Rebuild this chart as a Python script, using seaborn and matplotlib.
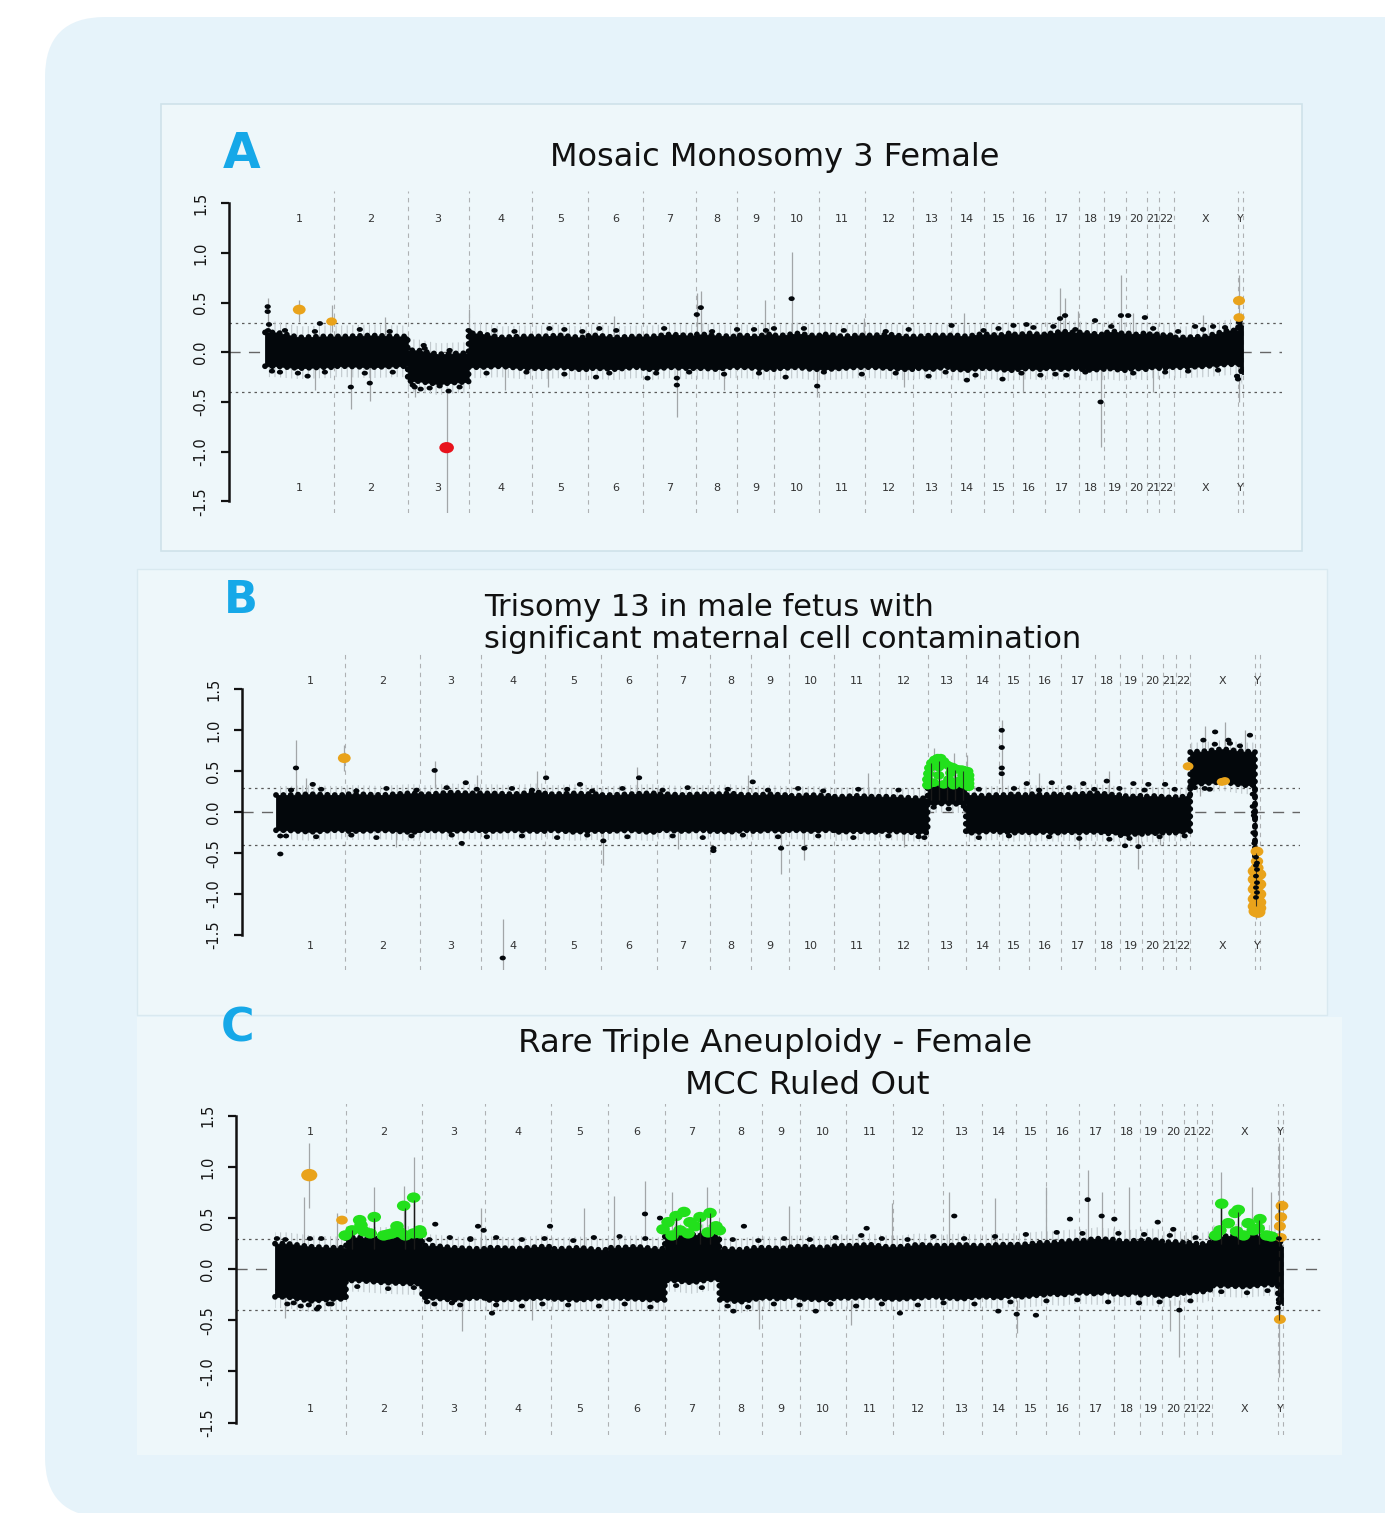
import numpy as np
import pandas as pd
import matplotlib
matplotlib.use("Agg")
import matplotlib.pyplot as plt
import seaborn as sns
from matplotlib.patches import FancyBboxPatch, Rectangle
from matplotlib.path import Path
from matplotlib.transforms import Affine2D, blended_transform_factory

sns.set_theme(style="white")
plt.rcParams["font.family"] = ["DejaVu Sans"]
plt.rcParams["axes.unicode_minus"] = False
plt.rcParams["hatch.linewidth"] = 0.8

# ---------------- data ----------------
chrom_names = [str(i) for i in range(1, 23)] + ["X", "Y"]
chrom_width = [69, 74, 61, 64, 56, 55, 53, 41, 37.5, 45, 45.5, 48, 38, 33.5,
               29.5, 31.5, 34, 25, 22, 21, 12.5, 14.5, 64.5, 5]
y_ticks = [-1.5, -1.0, -0.5, 0.0, 0.5, 1.0, 1.5]
y_tick_labels = ["-1.5", "-1.0", "-0.5", "0.0", "0.5", "1.0", "1.5"]
gain_threshold = 0.3
loss_threshold = -0.4

# dense band envelope per chromosome (3 top values, 3 bottom values)
a_top = [(0.2, 0.15, 0.16), (0.16, 0.17, 0.16), (0.02, -0.02, -0.01), (0.19, 0.15, 0.16),
         (0.16, 0.17, 0.15), (0.17, 0.15, 0.16), (0.16, 0.18, 0.17), (0.18, 0.17, 0.16),
         (0.17, 0.16, 0.18), (0.17, 0.19, 0.17), (0.18, 0.16, 0.17), (0.17, 0.18, 0.16),
         (0.16, 0.17, 0.17), (0.17, 0.16, 0.18), (0.18, 0.17, 0.19), (0.18, 0.19, 0.18),
         (0.19, 0.21, 0.2), (0.2, 0.19, 0.18), (0.2, 0.21, 0.19), (0.19, 0.18, 0.19),
         (0.18, 0.19, 0.18), (0.17, 0.18, 0.17), (0.15, 0.16, 0.22), (0.3, 0.32, 0.27)]
a_bot = [(-0.14, -0.16, -0.15), (-0.14, -0.15, -0.14), (-0.29, -0.32, -0.3), (-0.15, -0.14, -0.16),
         (-0.16, -0.15, -0.17), (-0.16, -0.17, -0.15), (-0.17, -0.15, -0.16), (-0.16, -0.17, -0.15),
         (-0.15, -0.16, -0.17), (-0.16, -0.15, -0.17), (-0.17, -0.16, -0.15), (-0.15, -0.16, -0.17),
         (-0.16, -0.17, -0.15), (-0.17, -0.18, -0.16), (-0.16, -0.17, -0.18), (-0.17, -0.16, -0.17),
         (-0.16, -0.17, -0.16), (-0.17, -0.18, -0.17), (-0.16, -0.17, -0.18), (-0.17, -0.16, -0.17),
         (-0.16, -0.15, -0.16), (-0.15, -0.16, -0.15), (-0.15, -0.14, -0.12), (-0.12, -0.17, -0.22)]

b_top = [(0.21, 0.22, 0.21), (0.22, 0.21, 0.23), (0.22, 0.24, 0.23), (0.23, 0.22, 0.24),
         (0.22, 0.23, 0.22), (0.21, 0.22, 0.23), (0.22, 0.21, 0.22), (0.22, 0.23, 0.21),
         (0.21, 0.22, 0.21), (0.2, 0.21, 0.2), (0.19, 0.2, 0.19), (0.19, 0.18, 0.17),
         (0.33, 0.34, 0.32), (0.21, 0.2, 0.21), (0.21, 0.22, 0.21), (0.22, 0.21, 0.22),
         (0.21, 0.22, 0.23), (0.23, 0.22, 0.21), (0.2, 0.19, 0.2), (0.19, 0.2, 0.19),
         (0.19, 0.18, 0.19), (0.18, 0.19, 0.2), (0.74, 0.77, 0.74), (-0.55, -0.62, -0.68)]
b_bot = [(-0.22, -0.24, -0.22), (-0.23, -0.22, -0.24), (-0.22, -0.23, -0.22), (-0.23, -0.22, -0.23),
         (-0.22, -0.24, -0.23), (-0.23, -0.22, -0.24), (-0.22, -0.23, -0.22), (-0.23, -0.24, -0.22),
         (-0.23, -0.22, -0.23), (-0.22, -0.23, -0.22), (-0.24, -0.23, -0.24), (-0.23, -0.24, -0.25),
         (0.1, 0.11, 0.1), (-0.25, -0.24, -0.23), (-0.24, -0.25, -0.24), (-0.25, -0.24, -0.25),
         (-0.24, -0.25, -0.24), (-0.24, -0.26, -0.25), (-0.28, -0.26, -0.27), (-0.25, -0.26, -0.25),
         (-0.24, -0.25, -0.24), (-0.25, -0.24, -0.23), (0.35, 0.37, 0.33), (-1.0, -1.05, -1.05)]

c_top = [(0.25, 0.22, 0.21), (0.31, 0.3, 0.31), (0.23, 0.21, 0.2), (0.21, 0.2, 0.22),
         (0.2, 0.21, 0.19), (0.21, 0.22, 0.2), (0.33, 0.34, 0.32), (0.2, 0.19, 0.21),
         (0.21, 0.2, 0.22), (0.22, 0.21, 0.23), (0.23, 0.24, 0.22), (0.22, 0.24, 0.23),
         (0.23, 0.24, 0.23), (0.23, 0.24, 0.24), (0.24, 0.25, 0.26), (0.26, 0.27, 0.28),
         (0.28, 0.3, 0.29), (0.28, 0.27, 0.28), (0.28, 0.29, 0.28), (0.26, 0.27, 0.26),
         (0.25, 0.26, 0.25), (0.24, 0.25, 0.26), (0.32, 0.34, 0.32), (0.3, 0.27, 0.22)]
c_bot = [(-0.27, -0.31, -0.29), (-0.11, -0.13, -0.14), (-0.28, -0.3, -0.28), (-0.3, -0.29, -0.28),
         (-0.29, -0.3, -0.28), (-0.28, -0.29, -0.3), (-0.11, -0.13, -0.1), (-0.3, -0.32, -0.29),
         (-0.28, -0.29, -0.27), (-0.29, -0.3, -0.28), (-0.28, -0.27, -0.29), (-0.29, -0.28, -0.27),
         (-0.28, -0.29, -0.27), (-0.27, -0.28, -0.26), (-0.27, -0.26, -0.25), (-0.24, -0.25, -0.23),
         (-0.23, -0.24, -0.22), (-0.24, -0.25, -0.23), (-0.25, -0.24, -0.26), (-0.26, -0.25, -0.24),
         (-0.22, -0.23, -0.22), (-0.21, -0.22, -0.2), (-0.16, -0.17, -0.15), (-0.3, -0.32, -0.35)]

# individual probes outside the dense band (genome position, log2 ratio)
a_dots = [(2.7, 0.46), (2.7, 0.41), (4, 0.28), (3, 0.22), (7, -0.19), (42.7, -0.24), (86, -0.35),
          (105, -0.31), (55, 0.29), (66.7, 0.31), (159, 0.07), (184, -0.39), (156, -0.37),
          (148, -0.33), (204, 0.22), (206, 0.2), (432.7, 0.38), (436.7, 0.45), (527.7, 0.54),
          (412.7, -0.26), (412.7, -0.33), (553.3, -0.34), (331.7, -0.25), (383.3, -0.26),
          (521.7, -0.25), (665, -0.24), (285, 0.24), (335, 0.24), (473, 0.23), (502, 0.22),
          (510, 0.24), (837.3, -0.5), (857.7, 0.37), (865, 0.37), (801.7, 0.37), (796.7, 0.34),
          (881.7, 0.35), (831.7, 0.32), (703.3, -0.28), (739, -0.27), (688, 0.27), (750, 0.27),
          (763, 0.28), (790, 0.26), (932, 0.26), (950, 0.26), (803, -0.23), (777, -0.23),
          (973, 0.2), (974, 0.1), (975, 0.0), (975, -0.1), (974, -0.24), (975, -0.27), (976, 0.3),
          (20, 0.22), (50, 0.21), (95, 0.23), (125, 0.21), (230, 0.22), (250, 0.21), (300, 0.23),
          (318, 0.21), (352, 0.22), (400, 0.24), (448, 0.21), (490, 0.23), (540, 0.24), (580, 0.22),
          (622, 0.21), (645, 0.23), (720, 0.22), (735, 0.24), (770, 0.25), (812, 0.23), (848, 0.26),
          (890, 0.24), (915, 0.21), (940, 0.23), (962, 0.25),
          (15, -0.2), (33, -0.21), (60, -0.2), (100, -0.21), (128, -0.2), (222, -0.21), (262, -0.2),
          (300, -0.22), (345, -0.21), (392, -0.21), (425, -0.2), (460, -0.22), (495, -0.21),
          (560, -0.2), (598, -0.22), (632, -0.21), (682, -0.2), (712, -0.23), (758, -0.21),
          (792, -0.22), (822, -0.2), (870, -0.21), (902, -0.2), (925, -0.19), (955, -0.18),
          (150, -0.35), (165, -0.36), (175, -0.34), (195, -0.35), (160, 0.04), (185, 0.02)]
b_dots = [(4.3, -0.51), (4.3, -0.29), (19.9, 0.54), (36.6, 0.34), (158, 0.51), (185, -0.38),
          (189, 0.36), (225.8, -1.78), (269, 0.42), (361.6, 0.42), (435.6, -0.44), (435.6, -0.47),
          (503, -0.44), (526.2, -0.44), (326, -0.35), (474.8, 0.37), (302.8, 0.34),
          (722.8, 1.0), (722.8, 0.79), (722.8, 0.54), (722.8, 0.47), (747.7, 0.35), (772.6, 0.36),
          (804, 0.35), (827.4, 0.38), (853.9, 0.35), (868.8, 0.34), (885.5, 0.34), (845.6, -0.41),
          (858.9, -0.42), (645.7, -0.31), (923.6, 0.88), (935.3, 0.98), (948.5, 0.88), (970, 0.94),
          (913.3, 0.64), (911.6, 0.33), (972.8, 0.22), (972.8, 0.07), (974, -0.04), (975, -0.06),
          (974, 0.0), (973.5, -0.25), (974.5, -0.38),
          (15, 0.27), (45, 0.28), (80, 0.26), (110, 0.29), (140, 0.27), (170, 0.3), (200, 0.28),
          (235, 0.29), (255, 0.27), (290, 0.28), (315, 0.26), (345, 0.29), (385, 0.27), (410, 0.3),
          (450, 0.28), (490, 0.27), (520, 0.29), (545, 0.26), (580, 0.28), (620, 0.27), (700, 0.28),
          (735, 0.29), (760, 0.27), (790, 0.3), (815, 0.28), (840, 0.29), (865, 0.27), (895, 0.28),
          (10, -0.29), (40, -0.3), (75, -0.28), (100, -0.31), (135, -0.29), (175, -0.28),
          (210, -0.3), (245, -0.29), (280, -0.31), (310, -0.28), (350, -0.3), (395, -0.29),
          (425, -0.31), (465, -0.28), (500, -0.3), (540, -0.29), (575, -0.31), (610, -0.29),
          (640, -0.3), (700, -0.31), (730, -0.29), (770, -0.3), (800, -0.32), (830, -0.33),
          (850, -0.32), (880, -0.3), (905, -0.29), (655, 0.06), (670, 0.04), (685, 0.07),
          (915, 0.3), (925, 0.29), (935, 0.83), (950, 0.84), (960, 0.81), (930, 0.28)]
c_dots = [(40.8, -0.39), (155.8, 0.44), (197.4, 0.42), (211, -0.43), (359.7, 0.54), (374.3, 0.5),
          (267.4, 0.42), (455.9, 0.42), (575.2, 0.4), (445.6, -0.41), (525.7, -0.41), (607.6, -0.43),
          (660.4, 0.52), (790.1, 0.68), (803.7, 0.52), (772.9, 0.49), (816, 0.49), (858.2, 0.46),
          (873.3, 0.39), (879.2, -0.4), (721.1, -0.44), (739.8, -0.45), (703.2, -0.41),
          (18.2, -0.33), (32.8, -0.35), (42.5, -0.37), (52.2, -0.34), (3.6, -0.2), (1.9, 0.3),
          (34, 0.3), (147.8, -0.32), (172, -0.33), (189.9, 0.3), (202.9, 0.38),
          (10, 0.29), (45, 0.3), (150, 0.29), (170, 0.31), (190, 0.29), (215, 0.31), (240, 0.29),
          (262, 0.3), (290, 0.28), (310, 0.31), (335, 0.32), (360, 0.3), (445, 0.29), (470, 0.28),
          (495, 0.3), (520, 0.29), (545, 0.31), (570, 0.33), (590, 0.3), (615, 0.29), (640, 0.32),
          (670, 0.3), (700, 0.32), (730, 0.34), (760, 0.36), (785, 0.35), (820, 0.35), (845, 0.34),
          (870, 0.33), (895, 0.31),
          (12, -0.34), (25, -0.36), (55, -0.34), (80, -0.17), (110, -0.19), (135, -0.18), (155, -0.34),
          (180, -0.35), (215, -0.35), (240, -0.36), (260, -0.34), (285, -0.35), (315, -0.36),
          (340, -0.34), (365, -0.37), (390, -0.16), (415, -0.18), (440, -0.36), (460, -0.37),
          (485, -0.34), (510, -0.35), (540, -0.34), (565, -0.36), (590, -0.34), (625, -0.35),
          (650, -0.33), (680, -0.34), (715, -0.32), (750, -0.31), (780, -0.3), (810, -0.32),
          (840, -0.33), (860, -0.32), (890, -0.31), (920, -0.22), (945, -0.23), (965, -0.21)]

# probe error bars (position, low, high)
a_bars = [(182, -1.62, -0.38), (527.7, 0.2, 1.01), (501, 0.15, 0.53), (412.7, -0.65, -0.12),
          (837.3, -0.95, -0.12), (857.7, 0.18, 0.78), (796.7, 0.18, 0.65), (283.3, -0.35, -0.1),
          (34.3, 0.31, 0.53), (66.7, 0.2, 0.48), (976, -0.5, 0.78), (2.7, 0.2, 0.55),
          (86, -0.57, -0.1), (105, -0.49, -0.1), (204, 0.1, 0.44), (432.7, 0.15, 0.6),
          (436.7, 0.2, 0.62), (553.3, -0.45, -0.15), (600, 0.15, 0.35), (640, -0.35, -0.15),
          (700, 0.15, 0.4), (760, -0.4, -0.12), (815, 0.15, 0.42), (870, 0.15, 0.4),
          (890, -0.4, -0.12), (940, 0.15, 0.38), (120, 0.15, 0.36), (240, -0.38, -0.12),
          (350, 0.15, 0.37), (460, -0.38, -0.12), (802, 0.2, 0.55), (50, -0.38, -0.1),
          (150, -0.45, -0.25)]
b_bars = [(19.9, 0.2, 0.88), (68, 0.5, 0.82), (225.8, -1.95, -1.3), (503, -0.75, -0.25),
          (526.2, -0.58, -0.25), (326, -0.64, -0.25), (722.8, 0.2, 1.12), (858.9, -0.69, -0.25),
          (976.5, -1.3, 0.3), (158, 0.3, 0.62), (30, 0.2, 0.42), (120, -0.42, -0.2),
          (200, 0.2, 0.45), (260, 0.2, 0.5), (360, 0.2, 0.55), (400, -0.45, -0.2),
          (470, 0.2, 0.45), (590, 0.2, 0.48), (625, -0.42, -0.2), (655, 0.3, 0.78),
          (675, 0.3, 0.72), (688, 0.3, 0.7), (760, 0.2, 0.48), (800, -0.45, -0.2),
          (830, 0.2, 0.5), (880, -0.4, -0.2), (925, 0.7, 1.05), (945, 0.7, 1.1), (965, 0.7, 1.0),
          (920, 0.2, 0.38)]
c_bars = [(33.3, 0.6, 1.23), (976.5, -1.05, 1.23), (879.2, -0.86, -0.3), (721.1, -0.62, -0.3),
          (790.1, 0.3, 0.97), (803.7, 0.3, 0.75), (96, 0.3, 0.8), (125, 0.3, 0.81),
          (134.8, 0.3, 1.1), (27.9, 0.2, 0.71), (9.7, -0.48, -0.2), (181.8, -0.6, -0.28),
          (359.7, 0.3, 0.86), (470.8, -0.58, -0.3), (385.7, 0.3, 0.75), (60, 0.2, 0.55),
          (200, 0.2, 0.6), (250, -0.5, -0.3), (300, 0.2, 0.6), (330, 0.2, 0.72), (420, 0.3, 0.8),
          (500, 0.2, 0.62), (560, -0.55, -0.3), (600, 0.2, 0.65), (655, 0.2, 0.75),
          (700, 0.25, 0.7), (750, 0.3, 0.8), (830, 0.25, 0.8), (870, -0.6, -0.3),
          (920, 0.3, 0.95), (950, 0.3, 0.8), (968, 0.3, 0.75)]
b_dark_bars = [(652, 0.15, 0.6), (660, 0.15, 0.62), (668, 0.15, 0.55), (676, 0.15, 0.52),
               (684, 0.15, 0.5), (976.5, -1.15, -0.5)]
c_dark_bars = [(75, 0.2, 0.38), (96, 0.2, 0.5), (126, 0.2, 0.6), (135, 0.2, 0.68),
               (390, 0.25, 0.5), (413, 0.25, 0.5), (423, 0.25, 0.55), (920, 0.25, 0.6),
               (936, 0.25, 0.56), (957, 0.25, 0.48), (976.5, -0.5, 0.65)]

# called aberrant probes (position, log2 ratio, marker size)
a_orange = [(34.3, 0.43, 85), (66.7, 0.31, 60), (976, 0.52, 75), (976, 0.35, 65)]
a_red = [(182, -0.96, 110)]
b_orange = [(68, 0.66, 85), (908.4, 0.56, 60), (942, 0.37, 55), (945, 0.38, 55),
            (977, -0.48, 85), (977, -0.6, 80), (977, -0.68, 90), (975, -0.72, 110),
            (979, -0.76, 110), (975, -0.82, 110), (979, -0.88, 110), (975, -0.94, 110),
            (979, -1.0, 110), (975, -1.06, 110), (979, -1.1, 110), (975, -1.15, 110),
            (979, -1.17, 110), (976, -1.21, 115), (978, -1.22, 115), (977, -0.9, 110),
            (977, -1.03, 110)]
b_green = [(649, 0.33), (649, 0.4), (650, 0.47), (651, 0.54), (653, 0.6), (656, 0.64),
           (659, 0.66), (662, 0.66), (665, 0.62), (668, 0.58), (671, 0.56), (674, 0.55),
           (677, 0.53), (680, 0.52), (683, 0.52), (686, 0.51), (689, 0.5), (690, 0.45),
           (690, 0.4), (690, 0.35), (690, 0.31), (660, 0.45), (670, 0.4), (680, 0.38),
           (655, 0.36), (665, 0.34), (675, 0.33), (685, 0.34), (660, 0.55), (672, 0.48),
           (684, 0.45)]
c_orange = [(33.3, 0.92, 135), (65.1, 0.48, 70), (979, 0.62, 85), (978, 0.51, 80),
            (977, 0.42, 75), (978, 0.31, 70), (977, -0.49, 75)]
c_green = [(68.3, 0.33), (74.9, 0.38), (82.3, 0.48), (83.6, 0.43), (92.6, 0.35), (96.5, 0.51),
           (105.7, 0.33), (113.7, 0.35), (118.6, 0.42), (125.1, 0.62), (134.8, 0.7), (126.7, 0.33),
           (134.8, 0.35), (140.7, 0.38), (141.3, 0.35), (86.5, 0.37), (109.9, 0.34), (121.5, 0.36),
           (377.2, 0.39), (382.1, 0.46), (389.9, 0.52), (397.6, 0.56), (403.5, 0.46), (408.3, 0.42),
           (413.2, 0.51), (422.9, 0.55), (428.7, 0.42), (432.0, 0.38), (421, 0.36), (393.7, 0.38),
           (386, 0.33), (401.6, 0.35),
           (920.4, 0.64), (933.3, 0.55), (936.5, 0.58), (946.2, 0.45), (957.6, 0.49), (918.7, 0.38),
           (926.8, 0.45), (934.9, 0.37), (951.1, 0.38), (955.9, 0.4), (964.1, 0.33), (941.7, 0.33),
           (914.5, 0.33), (968.6, 0.32)]
b_top_dots = [(976, -0.55), (977, -0.62), (976, -0.78), (977, -0.86), (976, -0.92), (977, -0.98),
              (976, -1.04), (977, -0.7), (976, -0.65)]
c_top_dots = [(976, 0.3), (976, 0.2), (975, 0.1), (976, -0.05), (976, -0.15), (977, -0.25),
              (976, -0.33), (975, -0.38)]

titles_a = ["Mosaic Monosomy 3 Female"]
titles_b = ["Trisomy 13 in male fetus with", "significant maternal cell contamination"]
titles_c = ["Rare Triple Aneuploidy - Female", "MCC Ruled Out"]

# ---------------- layout / style ----------------
W, H = 1385, 1513
ORANGE, RED, GREEN = "#e9a31b", "#e8131c", "#22e01c"
LETTER = "#16a8e8"
BAND = "#03070b"

chrom_start = np.concatenate([[0.0], np.cumsum(chrom_width)[:-1]])
chrom_end = chrom_start + np.array(chrom_width)
genome_len = float(np.sum(chrom_width))
ELL = Path.unit_circle().transformed(Affine2D().scale(1.3, 1.0))

fig = plt.figure(figsize=(W / 100, H / 100), dpi=100)
fig.patch.set_facecolor("white")
bg = fig.add_axes([0, 0, 1, 1])
bg.set_xlim(0, W)
bg.set_ylim(H, 0)
bg.axis("off")
bg.add_patch(FancyBboxPatch((45, 17), 1500, 1500, boxstyle="round,pad=0,rounding_size=60",
                            fc="#e6f3fa", ec="none"))
bg.add_patch(Rectangle((161, 104), 1141, 447, fc="#eef7fa", ec="#cfe2ea", lw=1.2))
bg.add_patch(Rectangle((137, 569), 1190, 446, fc="#eef7fa", ec="#d9e9f0", lw=1.0))
bg.add_patch(Rectangle((137, 1017), 1205, 438, fc="#eef7fa", ec="none"))


def band_profile(top, bot):
    xs, ts, bs = [], [], []
    for s, w, t, b in zip(chrom_start, chrom_width, top, bot):
        for f, k in ((0.0, 0), (1 / 6, 0), (0.5, 1), (5 / 6, 2), (1.0, 2)):
            xs.append(s + f * w)
            ts.append(t[k])
            bs.append(b[k])
    return np.array(xs), np.array(ts), np.array(bs)


def scatter(ax, pts, color, size, z):
    if not pts:
        return
    if len(pts[0]) == 3:
        df = pd.DataFrame(pts, columns=["pos", "log2", "sz"])
        s = df["sz"].values
    else:
        df = pd.DataFrame(pts, columns=["pos", "log2"])
        s = size
    sns.scatterplot(data=df, x="pos", y="log2", ax=ax, color=color, s=s, marker=ELL,
                    linewidth=0, edgecolor="none", zorder=z, legend=False)


def panel(cfg, top, bot, dots, bars, dark_bars, colored, top_dots, green_size):
    left, right, ytop, ybot = cfg["left"], cfg["right"], cfg["top"], cfg["bottom"]
    ax = fig.add_axes([left / W, 1 - ybot / H, (right - left) / W, (ybot - ytop) / H])
    ax.set_facecolor("none")
    ppu = (cfg["g1"] - cfg["g0"]) / genome_len
    xmin = -(cfg["g0"] - left) / ppu
    xmax = genome_len + (right - cfg["g1"]) / ppu
    yl = cfg["ylim"]

    ax.vlines(chrom_end, -yl, yl, colors="#aeb1b3", linestyles=(0, (4, 4)), lw=0.8, zorder=1)
    ax.axhline(gain_threshold, color="#5a5a5a", ls=(0, (2, 3)), lw=0.9, zorder=1)
    ax.axhline(loss_threshold, color="#5a5a5a", ls=(0, (2, 3)), lw=0.9, zorder=1)
    ax.axhline(0, color="#666666", ls=(0, (8, 6)), lw=1.0, zorder=1)

    xs, ts, bs = band_profile(top, bot)
    # faint haze of probe error bars around the dense band
    ax.fill_between(xs, ts + 0.11, bs - 0.11, facecolor="none", edgecolor="#c0c8cc",
                    hatch="|||", lw=0, zorder=2)
    bx = np.array(bars)
    ax.vlines(bx[:, 0], bx[:, 1], bx[:, 2], colors="#a2a6a8", lw=0.9, zorder=2)
    ax.fill_between(xs, ts, bs, color=BAND, lw=0.6, edgecolor=BAND, zorder=3)
    # beaded outline: the dense probe cloud seen at the band edges
    for edge in (ts, bs):
        ax.plot(xs, edge, color=BAND, lw=4.2, ls=(0, (0.01, 1.25)),
                dash_capstyle="round", zorder=3)
    if dark_bars:
        db = np.array(dark_bars)
        ax.vlines(db[:, 0], db[:, 1], db[:, 2], colors="#1a1a1a", lw=1.0, zorder=3)
    scatter(ax, dots, BAND, 20, 4)
    for pts, col in colored:
        scatter(ax, pts, col, green_size, 5)
    if dark_bars:
        ax.vlines(db[:, 0], db[:, 1], db[:, 2], colors="#1a1a1a", lw=0.8, alpha=0.8, zorder=6)
    scatter(ax, top_dots, BAND, 18, 7)

    ax.set_xlim(xmin, xmax)
    ax.set_ylim(-yl, yl)
    ax.set_xlabel("")
    ax.set_ylabel("")
    ax.set_xticks([])
    ax.set_yticks(y_ticks)
    ax.set_yticklabels(y_tick_labels)
    for sp in ("top", "right", "bottom"):
        ax.spines[sp].set_visible(False)
    ax.spines["left"].set_bounds(-1.5, 1.5)
    ax.spines["left"].set_color("#111111")
    ax.spines["left"].set_linewidth(1.8)
    ax.tick_params(axis="y", left=True, length=6, width=1.6, color="#111111",
                   labelsize=10.5, labelcolor="#151515", pad=9, labelrotation=90)
    for lab in ax.get_yticklabels():
        lab.set_va("center")
    trans = blended_transform_factory(ax.transData, ax.transAxes)
    for name, s, w in zip(chrom_names, chrom_start, chrom_width):
        for yy in (0.915, 0.078):
            ax.text(s + w / 2, yy, name, transform=trans, ha="center", va="center",
                    fontsize=8, color="#333333")
    return ax


cfg_a = dict(left=229, right=1282, top=191.4, bottom=513.2, ylim=1.62, g0=265, g1=1243)
cfg_b = dict(left=242, right=1300, top=654.1, bottom=970.3, ylim=1.93, g0=276, g1=1260)
cfg_c = dict(left=236, right=1322, top=1103.5, bottom=1434.9, ylim=1.62, g0=275, g1=1283)

panel(cfg_a, a_top, a_bot, a_dots, a_bars, [], [(a_orange, ORANGE), (a_red, RED)], [], 60)
panel(cfg_b, b_top, b_bot, b_dots, b_bars, b_dark_bars, [(b_orange, ORANGE), (b_green, GREEN)],
      b_top_dots, 65)
panel(cfg_c, c_top, c_bot, c_dots, c_bars, c_dark_bars, [(c_orange, ORANGE), (c_green, GREEN)],
      c_top_dots, 95)

# titles and panel letters
bg.text(775, 166, titles_a[0], ha="center", va="baseline", fontsize=23, color="#111111")
bg.text(484, 616, titles_b[0], ha="left", va="baseline", fontsize=22, color="#111111")
bg.text(484, 648, titles_b[1], ha="left", va="baseline", fontsize=22, color="#111111")
bg.text(775, 1052, titles_c[0], ha="center", va="baseline", fontsize=23.4, color="#111111")
bg.text(807, 1094, titles_c[1], ha="center", va="baseline", fontsize=23.4, color="#111111")
bg.text(242, 168, "A", ha="center", va="baseline", fontsize=35, fontweight="bold", color=LETTER)
bg.text(241, 613, "B", ha="center", va="baseline", fontsize=32, fontweight="bold", color=LETTER)
bg.text(238, 1041, "C", ha="center", va="baseline", fontsize=33, fontweight="bold", color=LETTER)

fig.savefig("out.png", dpi=100, facecolor="white")
